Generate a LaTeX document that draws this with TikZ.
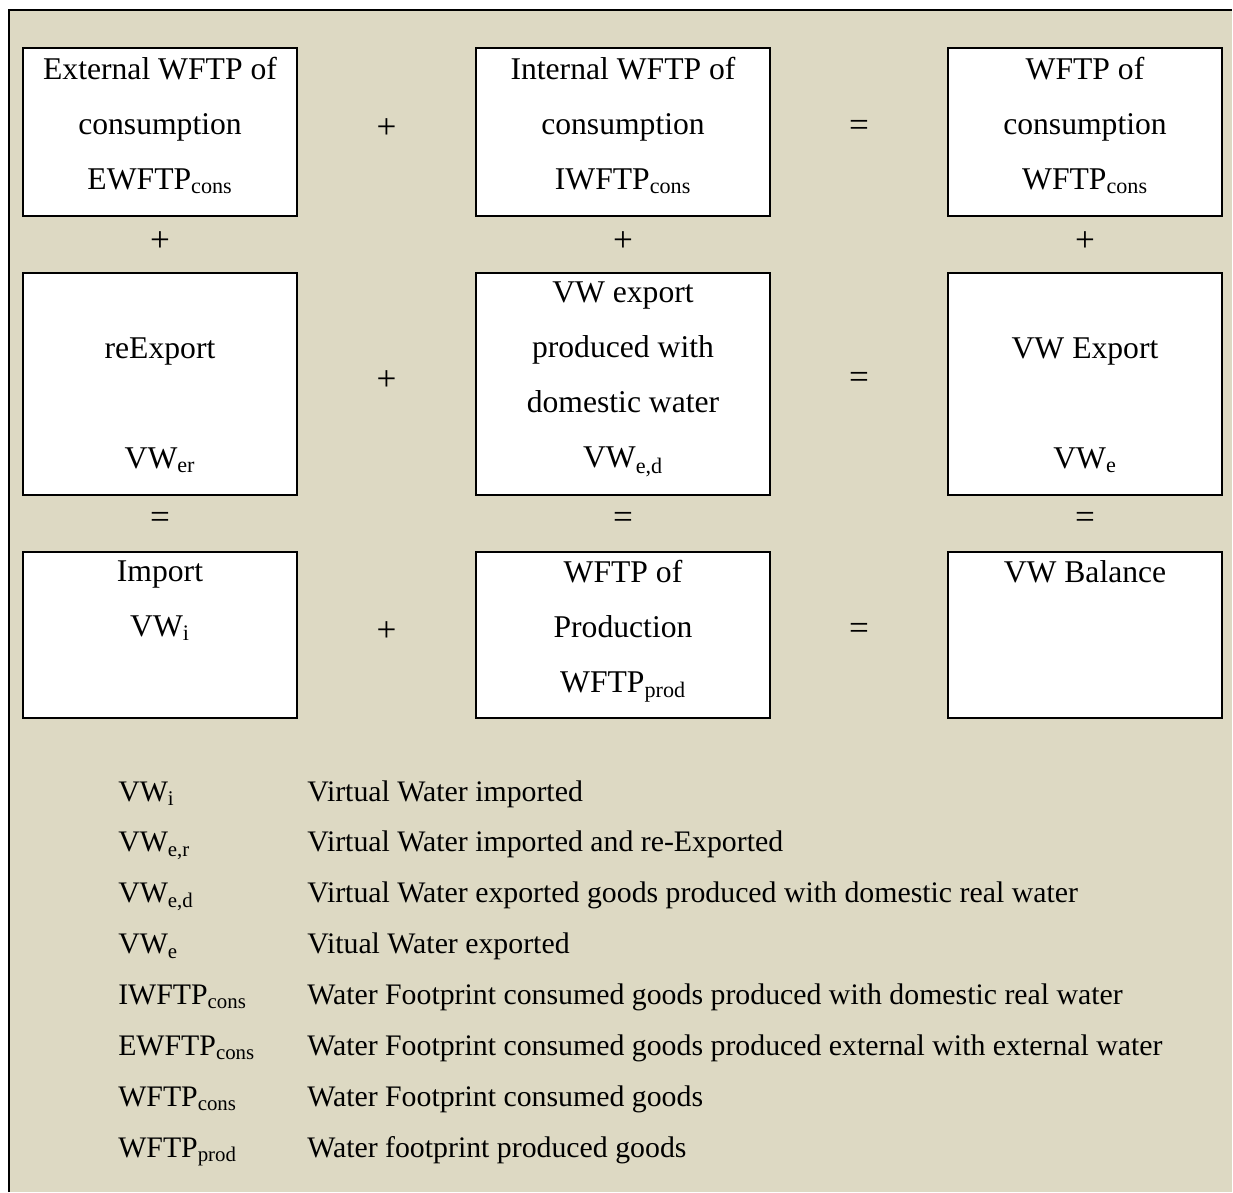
\documentclass[tikz,border=0pt]{standalone}
\usepackage{fontspec}
\setmainfont{Liberation Serif}
\usetikzlibrary{positioning,calc}
\definecolor{tanbg}{HTML}{DDD9C3}
\newcommand{\boxtop}{\rule{0pt}{0.55cm}}
\newcommand{\boxbot}{\rule[-0.45cm]{0pt}{0pt}}
\tikzset{
  box/.style={draw, rectangle, fill=white, line width=1.4pt, inner sep=0pt, align=center,
    font=\fontsize{22.5}{39.1}\selectfont,
    execute at begin node={\boxtop}, execute at end node={\boxbot}},
  sbox/.style={box, minimum width=6.85cm},
  wbox/.style={box, minimum width=7.35cm},
  op/.style={font=\fontsize{25}{30}\selectfont, inner sep=0pt},
  leg/.style={anchor=base west, inner sep=0pt, font=\fontsize{21.2}{30}\selectfont},
}

\begin{document}
\begin{tikzpicture}[x=0.025cm, y=-0.025cm]
\useasboundingbox (0,0) rectangle (1233,1192);

% background panel
\fill[tanbg] (9,10) rectangle (1232,1192);
\draw[line width=1.6pt] (9,1192) -- (9,10) -- (1232,10);

% row 1
\node[sbox, minimum height=4.2cm] (ewf) at (160,132)
  {External WFTP of\\consumption\\EWFTP\textsubscript{cons}};
\node[wbox, minimum height=4.2cm] (iwf) at (623,132)
  {Internal WFTP of\\consumption\\IWFTP\textsubscript{cons}};
\node[sbox, minimum height=4.2cm] (wfc) at (1085,132)
  {WFTP of\\consumption\\WFTP\textsubscript{cons}};

% row 2
\node[sbox, minimum height=5.55cm] (rex) at (160,384)
  {\boxtop\\reExport\\\mbox{}\\VW\textsubscript{er}};
\node[wbox, minimum height=5.55cm] (vwd) at (623,384)
  {VW export\\produced with\\domestic water\\VW\textsubscript{e,d}};
\node[sbox, minimum height=5.55cm] (vwe) at (1085,384)
  {\boxtop\\VW Export\\\mbox{}\\VW\textsubscript{e}};

% row 3
\node[sbox, minimum height=4.15cm] (imp) at (160,635)
  {Import\\VW\textsubscript{i}\\\mbox{}};
\node[wbox, minimum height=4.15cm] (wfp) at (623,635)
  {WFTP of\\Production\\WFTP\textsubscript{prod}};
\node[sbox, minimum height=4.15cm] (bal) at (1085,635)
  {VW Balance\\\mbox{}\\\mbox{}};

% operators along the rows
\node[op, yshift=0.08cm] (pa) at ($(ewf.east)!0.5!(iwf.west)$) {+};
\node[op, yshift=0.08cm] (ea) at ($(iwf.east)!0.5!(wfc.west)$) {=};
\node[op, yshift=0.08cm] (pb) at ($(rex.east)!0.5!(vwd.west)$) {+};
\node[op, yshift=0.08cm] (eb) at ($(vwd.east)!0.5!(vwe.west)$) {=};
\node[op, yshift=0.08cm] (pc) at ($(imp.east)!0.5!(wfp.west)$) {+};
\node[op, yshift=0.08cm] (ec) at ($(wfp.east)!0.5!(bal.west)$) {=};

% operators down the columns
\node[op, yshift=0.08cm] (pd) at ($(ewf.south)!0.5!(rex.north)$) {+};
\node[op, yshift=0.08cm] (pe) at ($(iwf.south)!0.5!(vwd.north)$) {+};
\node[op, yshift=0.08cm] (pf) at ($(wfc.south)!0.5!(vwe.north)$) {+};
\node[op, yshift=0.08cm] (ed) at ($(rex.south)!0.5!(imp.north)$) {=};
\node[op, yshift=0.08cm] (ee) at ($(vwd.south)!0.5!(wfp.north)$) {=};
\node[op, yshift=0.08cm] (ef) at ($(vwe.south)!0.5!(bal.north)$) {=};

% legend
\foreach \sym/\desc [count=\i from 0] in {
  {VW\textsubscript{i}}/{Virtual Water imported},
  {VW\textsubscript{e,r}}/{Virtual Water imported and re-Exported},
  {VW\textsubscript{e,d}}/{Virtual Water exported goods produced with domestic real water},
  {VW\textsubscript{e}}/{Vitual Water exported},
  {IWFTP\textsubscript{cons}}/{Water Footprint consumed goods produced with domestic real water},
  {EWFTP\textsubscript{cons}}/{Water Footprint consumed goods produced external with external water},
  {WFTP\textsubscript{cons}}/{Water Footprint consumed goods},
  {WFTP\textsubscript{prod}}/{Water footprint produced goods}}
{
  \node[leg] (sym\i) at (118,801+50.9*\i) {\sym};
  \node[leg] (desc\i) at (307,801+50.9*\i) {\desc};
}

\end{tikzpicture}
\end{document}
